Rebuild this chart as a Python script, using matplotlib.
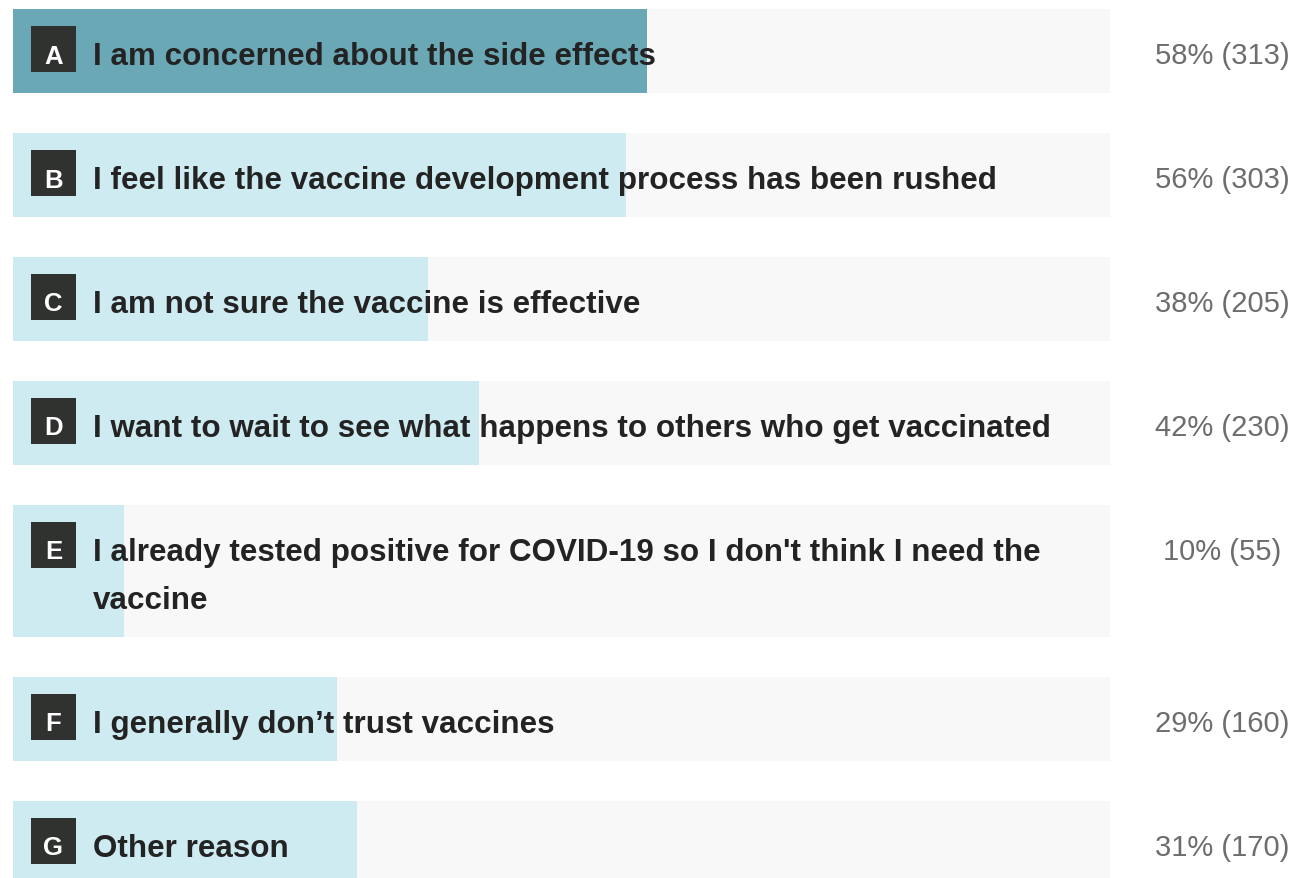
import matplotlib
matplotlib.use("Agg")
import matplotlib.pyplot as plt
from matplotlib.patches import Rectangle

letters = ["A", "B", "C", "D", "E", "F", "G"]
labels = [
    "I am concerned about the side effects",
    "I feel like the vaccine development process has been rushed",
    "I am not sure the vaccine is effective",
    "I want to wait to see what happens to others who get vaccinated",
    "I already tested positive for COVID-19 so I don't think I need the\nvaccine",
    "I generally don\u2019t trust vaccines",
    "Other reason",
]
percents = [58, 56, 38, 42, 10, 29, 31]
counts = [313, 303, 205, 230, 55, 160, 170]
total_respondents = 542
highlight = "A"

W, H = 1294, 879
fig = plt.figure(figsize=(W / 100, H / 100), dpi=100)
fig.patch.set_facecolor("white")
left_px, width_px = 13, 1097
ax = fig.add_axes([left_px / W, 0, width_px / W, 1])
ax.set_xlim(0, 1)
ax.set_ylim(H, 0)
ax.axis("off")

row_h1 = 84
line_h = 48
gap = 40
top = 10
px = 1.0 / width_px
FONT = "Liberation Sans"

tops, heights = [], []
for lab in labels:
    n = lab.count("\n") + 1
    h = row_h1 + (n - 1) * line_h
    tops.append(top)
    heights.append(h)
    top += h + gap

centers = [t + h / 2 for t, h in zip(tops, heights)]
fracs = [c / total_respondents for c in counts]

ax.barh(centers, [1] * len(labels), height=heights, left=0, color="#f8f8f8", zorder=1)
bar_colors = ["#6ba8b6" if l == highlight else "#ceebf1" for l in letters]
ax.barh(centers, fracs, height=heights, left=0, color=bar_colors, zorder=2)

for i, (l, lab) in enumerate(zip(letters, labels)):
    t = tops[i]
    box_top = t + 17
    base = t + 55
    ax.add_patch(Rectangle((18 * px, box_top), 45 * px, 46, facecolor="#30322f",
                           edgecolor="none", zorder=3, clip_on=False))
    ax.text(40.5 * px, base - 1.5, l, color="white", fontsize=18.5, fontweight="bold",
            family=FONT, ha="center", va="baseline", zorder=4)
    for k, part in enumerate(lab.split("\n")):
        ax.text(80 * px, base + k * line_h, part, color="#232323", fontsize=22.6,
                fontweight="bold", family=FONT, ha="left", va="baseline", zorder=4)
    ax.text(1209 * px, base - 1, f"{percents[i]}% ({counts[i]})", color="#6b6e6b",
            fontsize=21, family=FONT, ha="center", va="baseline", zorder=4, clip_on=False)

fig.savefig("out.png", dpi=100, facecolor="white")
